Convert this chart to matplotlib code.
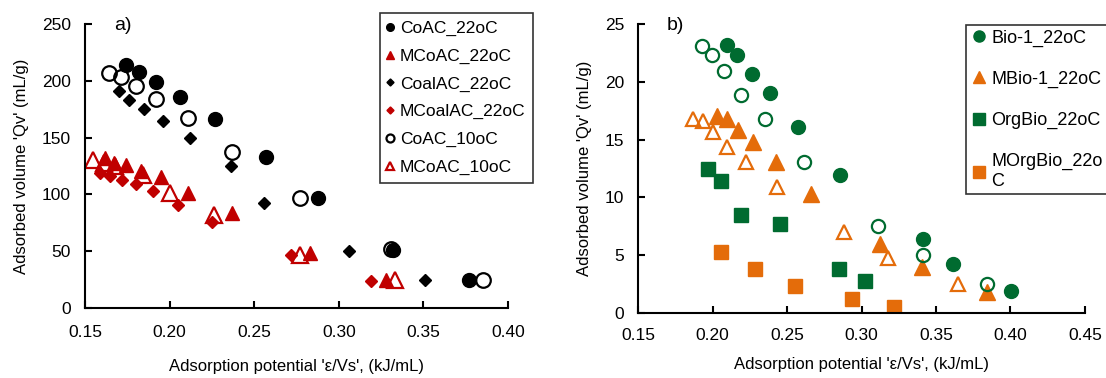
import matplotlib
matplotlib.use("Agg")
import matplotlib.pyplot as plt

plt.rcParams["font.family"] = ["Liberation Sans", "DejaVu Sans"]

# ----------------------------
# DATA  panel a)
# ----------------------------
coac22_x    = [0.174, 0.182, 0.192, 0.206, 0.227, 0.257, 0.288, 0.332, 0.377]
coac22_y    = [214, 208, 199, 186, 166, 133, 97, 51, 25]

mcoac22_x   = [0.162, 0.167, 0.174, 0.183, 0.195, 0.211, 0.237, 0.283, 0.328]
mcoac22_y   = [132, 128, 126, 121, 115, 101, 84, 48, 25]

coal22_x    = [0.170, 0.176, 0.185, 0.196, 0.212, 0.236, 0.256, 0.306, 0.351]
coal22_y    = [191, 183, 175, 165, 150, 125, 92, 50, 25]

mcoal22_x   = [0.159, 0.165, 0.172, 0.180, 0.190, 0.205, 0.225, 0.272, 0.319]
mcoal22_y   = [119, 116, 113, 109, 103, 91, 76, 47, 24]

coac10_x    = [0.164, 0.171, 0.180, 0.192, 0.211, 0.237, 0.277, 0.331, 0.385]
coac10_y    = [207, 203, 195, 184, 167, 137, 97, 52, 25]

mcoac10_x   = [0.155, 0.161, 0.168, 0.184, 0.200, 0.226, 0.277, 0.333]
mcoac10_y   = [130, 128, 125, 117, 101, 82, 47, 25]

# ----------------------------
# DATA  panel b)
# ----------------------------
bio22_x     = [0.2095, 0.2167, 0.2263, 0.2389, 0.2576, 0.2856, 0.341, 0.3617, 0.4003]
bio22_y     = [23.2, 22.3, 20.7, 19.0, 16.1, 11.9, 6.4, 4.2, 1.9]

bio10_x     = [0.1932, 0.1999, 0.2077, 0.2191, 0.2352, 0.2614, 0.3108, 0.341, 0.384]
bio10_y     = [23.1, 22.3, 20.9, 18.9, 16.8, 13.1, 7.5, 5.0, 2.5]

mbio22_x    = [0.2028, 0.2095, 0.2173, 0.2274, 0.2424, 0.2662, 0.3125, 0.3403, 0.3839]
mbio22_y    = [17.0, 16.8, 15.8, 14.8, 13.1, 10.3, 6.0, 4.0, 1.8]

mbio10_x    = [0.1871, 0.1934, 0.2005, 0.2095, 0.2224, 0.2435, 0.2885, 0.318, 0.3645]
mbio10_y    = [16.8, 16.6, 15.7, 14.4, 13.1, 10.9, 7.0, 4.8, 2.5]

orgbio_x    = [0.1968, 0.2057, 0.2191, 0.2453, 0.2851, 0.3023]
orgbio_y    = [12.5, 11.4, 8.5, 7.7, 3.8, 2.8]

morgbio_x   = [0.2057, 0.2285, 0.2554, 0.2935, 0.3217]
morgbio_y   = [5.3, 3.8, 2.3, 1.2, 0.5]

RED         = "#C00000"
GREEN       = "#006B30"
ORANGE      = "#E46C0A"

fig         = plt.figure(figsize=(11.06, 3.78), dpi=100)
W, H        = 1106, 378

ax1         = fig.add_axes([85 / W, (H - 308) / H, (508 - 85) / W, (308 - 24) / H])
ax2         = fig.add_axes([638 / W, (H - 313) / H, (1085 - 638) / W, (313 - 24) / H])

# ----------------------------
# PANEL a)
# ----------------------------
ax1.plot(coac22_x, coac22_y, "o", ms=10, color="black", label="CoAC_22oC")
ax1.plot(mcoac22_x, mcoac22_y, "^", ms=10.5, color=RED, label="MCoAC_22oC")
ax1.plot(coal22_x, coal22_y, "D", ms=6.5, color="black", label="CoalAC_22oC")
ax1.plot(mcoal22_x, mcoal22_y, "D", ms=6.5, color=RED, label="MCoalAC_22oC")
ax1.plot(coac10_x, coac10_y, "o", ms=10.5, mfc="none", mec="black", mew=1.6,
         label="CoAC_10oC")
ax1.plot(mcoac10_x, mcoac10_y, "^", ms=11, mfc="none", mec=RED, mew=1.6,
         label="MCoAC_10oC")

ax1.set_xlim(0.15, 0.40)
ax1.set_ylim(0, 250)
ax1.set_xticks([0.15, 0.20, 0.25, 0.30, 0.35, 0.40])
ax1.set_yticks([0, 50, 100, 150, 200, 250])
ax1.set_xticklabels(["0.15", "0.20", "0.25", "0.30", "0.35", "0.40"])

# ----------------------------
# PANEL b)
# ----------------------------
ax2.plot(bio22_x, bio22_y, "o", ms=10, color=GREEN, label="Bio-1_22oC")
ax2.plot(mbio22_x, mbio22_y, "^", ms=11, color=ORANGE, label="MBio-1_22oC")
ax2.plot(orgbio_x, orgbio_y, "s", ms=10.5, color=GREEN, label="OrgBio_22oC")
ax2.plot(morgbio_x, morgbio_y, "s", ms=10.5, color=ORANGE, label="MOrgBio_22o\nC")
ax2.plot(bio10_x, bio10_y, "o", ms=9.5, mfc="none", mec=GREEN, mew=1.6)
ax2.plot(mbio10_x, mbio10_y, "^", ms=10, mfc="none", mec=ORANGE, mew=1.6)

ax2.set_xlim(0.15, 0.45)
ax2.set_ylim(0, 25)
ax2.set_xticks([0.15, 0.20, 0.25, 0.30, 0.35, 0.40, 0.45])
ax2.set_yticks([0, 5, 10, 15, 20, 25])
ax2.set_xticklabels(["0.15", "0.20", "0.25", "0.30", "0.35", "0.40", "0.45"])

# ----------------------------
# COMMON STYLE
# ----------------------------
for ax in (ax1, ax2):
    ax.spines["top"].set_visible(False)
    ax.spines["right"].set_visible(False)
    for side in ("left", "bottom"):
        ax.spines[side].set_linewidth(1.5)
    ax.tick_params(direction="in", length=5, width=1.5, labelsize=12.5, pad=10)
    ax.set_ylabel("Adsorbed volume 'Qv' (mL/g)", fontsize=12, labelpad=9)
    ax.patch.set_visible(False)

ax1.tick_params(axis="x", pad=12)
ax2.tick_params(axis="x", pad=11)
ax1.set_xlabel("Adsorption potential 'ε/Vs', (kJ/mL)", fontsize=12, labelpad=14)
ax2.set_xlabel("Adsorption potential 'ε/Vs', (kJ/mL)", fontsize=12, labelpad=10)

ax1.text(0.07, 0.995, "a)", transform=ax1.transAxes, fontsize=14, va="center", ha="left")
ax2.text(0.065, 0.995, "b)", transform=ax2.transAxes, fontsize=14, va="center", ha="left")

leg1 = ax1.legend(loc="upper left", bbox_to_anchor=(380 / W, 1 - 13 / H),
                  bbox_transform=fig.transFigure, fontsize=12.5, frameon=True,
                  fancybox=False, edgecolor="black", markerscale=0.55,
                  handlelength=0.3, handletextpad=0.4, labelspacing=0.72,
                  borderpad=0.45, borderaxespad=0)
leg1.get_frame().set_linewidth(1.2)

# legend b) runs past the right edge of the figure, as in the source
leg2 = ax2.legend(loc="upper left", bbox_to_anchor=(966 / W, 1 - 25 / H),
                  bbox_transform=fig.transFigure, fontsize=13, frameon=True,
                  fancybox=False, edgecolor="black", markerscale=0.8,
                  handlelength=0.9, handletextpad=0.25, labelspacing=1.33,
                  borderpad=0.25, borderaxespad=0)
leg2.get_frame().set_linewidth(1.2)

fig.savefig("out.png", dpi=100)
